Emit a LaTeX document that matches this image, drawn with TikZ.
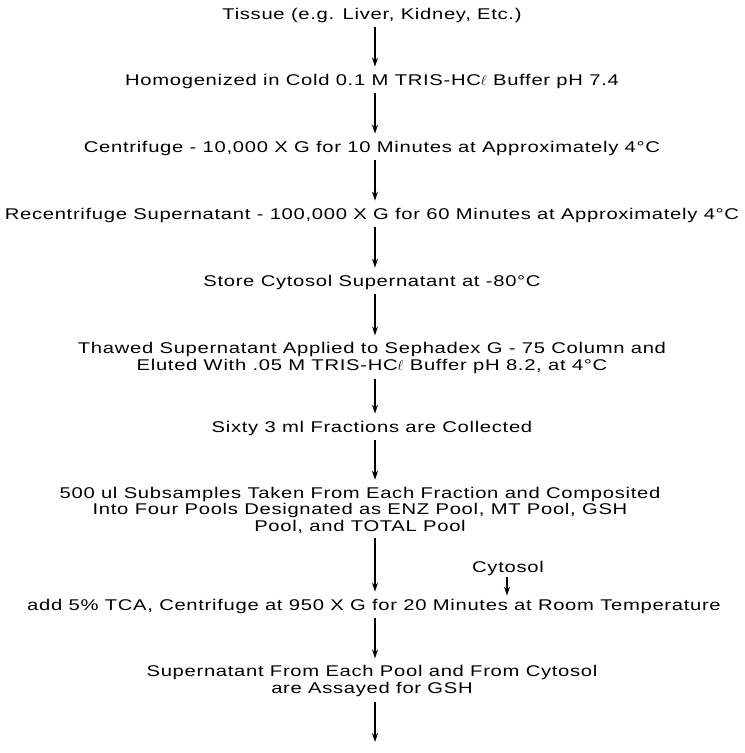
\documentclass[tikz,border=0pt]{standalone}
\usepackage{fontspec}
\setmainfont{Liberation Sans}[FakeStretch=1.3,LetterSpace=4.5]
\usepackage{tikz}
\usetikzlibrary{arrows.meta}

\begin{document}
\begin{tikzpicture}[x=1bp,y=-1bp,
  every node/.style={font=\fontsize{15.6}{16.5}\selectfont,align=center,inner sep=1pt},
  flow/.style={-{Stealth[length=9pt,width=6pt]},line width=1.9pt,shorten <=4bp,shorten >=6bp}]
		\useasboundingbox (0,0) rectangle (745,753);
		\node (tis) at (372,15) {Tissue (e.g. Liver, Kidney, Etc.)};
		\node (hom) at (372,81) {Homogenized in Cold 0.1 M TRIS-HC$\ell$ Buffer pH 7.4};
		\node (cen) at (372,148) {Centrifuge - 10,000 X G for 10 Minutes at Approximately 4°C};
		\node (rec) at (372,215) {Recentrifuge Supernatant - 100,000 X G for 60 Minutes at Approximately 4°C};
		\node (sto) at (372,282) {Store Cytosol Supernatant at -80°C};
		\node (tha) at (372,358) {Thawed Supernatant Applied to Sephadex G - 75 Column and\\Eluted With .05 M TRIS-HC$\ell$ Buffer pH 8.2, at 4°C};
		\node (six) at (372,428) {Sixty 3 ml Fractions are Collected};
		\node (sub) at (360,510) {500 ul Subsamples Taken From Each Fraction and Composited\\Into Four Pools Designated as ENZ Pool, MT Pool, GSH\\Pool, and TOTAL Pool};
		\node (cyt) at (508,568) {Cytosol};
		\node (tca) at (374,606) {add 5\% TCA, Centrifuge at 950 X G for 20 Minutes at Room Temperature};
		\node (sup) at (372,681) {Supernatant From Each Pool and From Cytosol\\are Assayed for GSH};
		\coordinate (axis) at (375,0);
		\coordinate (side) at (507,0);
		\coordinate (end) at (375,748);
		%
		\path[flow]
		(tis.south -| axis) edge (hom.north -| axis)
		(hom.south -| axis) edge (cen.north -| axis)
		(cen.south -| axis) edge (rec.north -| axis)
		(rec.south -| axis) edge (sto.north -| axis)
		(sto.south -| axis) edge (tha.north -| axis)
		(tha.south -| axis) edge (six.north -| axis)
		(six.south -| axis) edge (sub.north -| axis)
		(sub.south -| axis) edge (tca.north -| axis)
		(cyt.south -| side) edge[shorten <=1bp,shorten >=2bp] (tca.north -| side)
		(tca.south -| axis) edge (sup.north -| axis)
		(sup.south -| axis) edge (end);
\end{tikzpicture}
\end{document}
